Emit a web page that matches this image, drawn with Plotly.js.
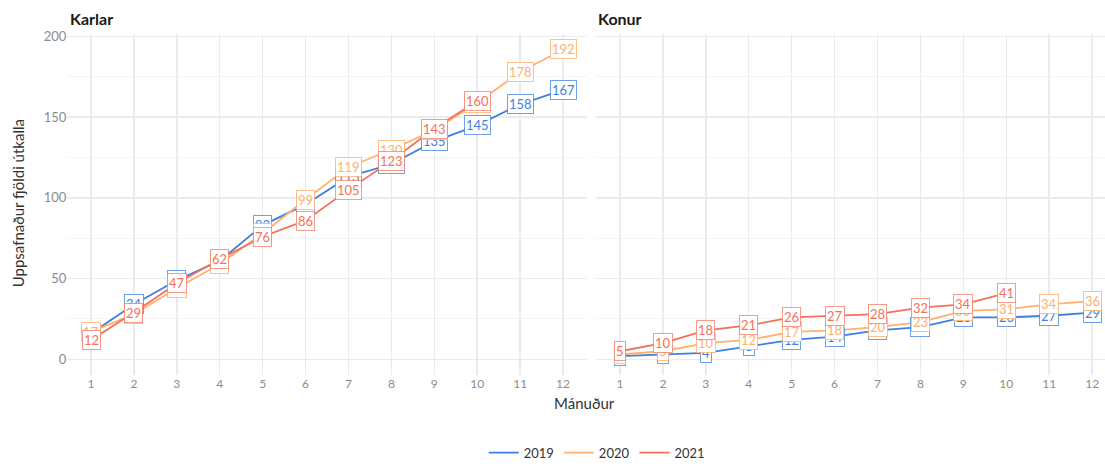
<!DOCTYPE html>
<html>
<head>
<meta charset="utf-8">
<script src="https://cdn.plot.ly/plotly-3.0.1.min.js"></script>
<style>html,body{margin:0;padding:0;background:#fff}</style>
</head>
<body>
<div id="chart" style="width:1105px;height:468px"></div>
<script>
const months = [1,2,3,4,5,6,7,8,9,10,11,12];
const years = ["2019","2020","2021"];
const colors = ["#3f7fe0","#ffb16e","#f5705a"];
const borderColors = ["rgba(63,127,224,0.75)","rgba(255,177,110,0.8)","rgba(245,112,90,0.7)"];
const panels = ["Karlar","Konur"];
const karlar2019 = [16,34,49,61,83,96,113,121,135,145,158,167];
const karlar2020 = [17,28,44,59,78,99,119,130,142,159,178,192];
const karlar2021 = [12,29,47,62,76,86,105,123,143,160];
const konur2019 = [2,3,4,8,12,14,18,20,26,26,27,29];
const konur2020 = [3,5,10,12,17,18,20,23,30,31,34,36];
const konur2021 = [5,10,18,21,26,27,28,32,34,41];

const seriesByPanel = [[karlar2019,karlar2020,karlar2021],[konur2019,konur2020,konur2021]];
const axes = [["x","y"],["x2","y2"]];
const FONT = "Lato, sans-serif";

const traces = [];
const annotations = [];
seriesByPanel.forEach((ser, p) => {
  ser.forEach((vals, i) => {
    traces.push({
      x: months.slice(0, vals.length), y: vals,
      xaxis: axes[p][0], yaxis: axes[p][1],
      type: "scatter", mode: "lines",
      line: {color: colors[i], width: 1.8},
      name: years[i], legendgroup: years[i], showlegend: p === 0,
      hoverinfo: "skip"
    });
  });
});
seriesByPanel.forEach((ser, p) => {
  ser.forEach((vals, i) => {
    vals.forEach((v, k) => {
      annotations.push({
        x: months[k], y: v, xref: axes[p][0], yref: axes[p][1],
        text: String(v), showarrow: false,
        font: {family: FONT, size: 13, color: colors[i]},
        bgcolor: "#ffffff", bordercolor: borderColors[i], borderwidth: 1, borderpad: 1
      });
    });
  });
});
panels.forEach((t, p) => {
  annotations.push({
    text: "<b>" + t + "</b>", xref: "paper", yref: "paper",
    x: p === 0 ? 0.0615 : 0.5397, y: 0.96, xanchor: "left", yanchor: "middle",
    showarrow: false, font: {family: FONT, size: 16, color: "#1a1a1a"}
  });
});
annotations.push({
  text: "Mánuður", xref: "paper", yref: "paper", x: 0.529, y: 0.128,
  xanchor: "center", yanchor: "middle", showarrow: false,
  font: {family: FONT, size: 15, color: "#333"}
});
annotations.push({
  text: "Uppsafnaður fjöldi útkalla", xref: "paper", yref: "paper", x: 18/1105, y: 0.56,
  xanchor: "center", yanchor: "middle", showarrow: false, textangle: -90,
  font: {family: FONT, size: 15, color: "#333"}
});

const gridCol = "#ebebeb";
const xBase = {
  tickmode: "array", tickvals: months, ticktext: months.map(String),
  showgrid: true, gridcolor: gridCol, gridwidth: 1.5,
  zeroline: false, showline: false, ticks: "",
  tickfont: {family: FONT, size: 12, color: "#8c8c8c"}
};
const yBase = {
  range: [-9.6, 201.6], tickvals: [0,50,100,150,200],
  showgrid: true, gridcolor: gridCol, gridwidth: 1.5,
  minor: {tickvals: [25,75,125,175], showgrid: true, gridcolor: "#f4f4f4", gridwidth: 1},
  zeroline: false, showline: false, ticks: "",
  tickfont: {family: FONT, size: 13, color: "#8c8c8c"}
};

const layout = {
  width: 1105, height: 468,
  margin: {l: 0, r: 0, t: 0, b: 0},
  paper_bgcolor: "#ffffff", plot_bgcolor: "#ffffff",
  xaxis: Object.assign({}, xBase, {domain: [0.061, 0.5309], range: [0.45, 12.55], anchor: "y"}),
  xaxis2: Object.assign({}, xBase, {domain: [0.5397, 1], range: [0.45, 12.3], anchor: "y2"}),
  yaxis: Object.assign({}, yBase, {domain: [0.1887, 0.9265], anchor: "x"}),
  yaxis2: Object.assign({}, yBase, {domain: [0.1887, 0.9265], anchor: "x2", showticklabels: false}),
  showlegend: true,
  legend: {orientation: "h", x: 0.54, xanchor: "center", y: 0.02, yanchor: "middle",
    font: {family: FONT, size: 13, color: "#333"}, itemwidth: 30},
  annotations: annotations
};

Plotly.newPlot("chart", traces, layout, {displayModeBar: false, staticPlot: true});
</script>
</body>
</html>
